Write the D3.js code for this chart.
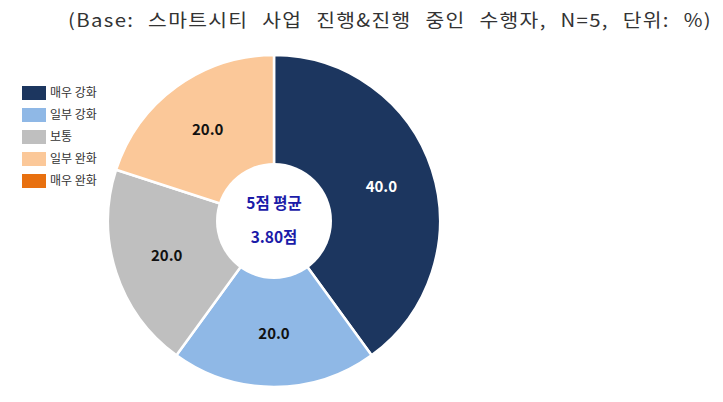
<!DOCTYPE html>
<html><head><meta charset="utf-8">
<script src="https://cdn.jsdelivr.net/npm/d3@7"></script>
<style>body{margin:0;background:#fff}svg{display:block}</style>
</head><body>
<svg id="c" width="723" height="402"></svg>
<script>
const categories = ["매우 강화", "일부 강화", "보통", "일부 완화", "매우 완화"];
const values = [40.0, 20.0, 20.0, 20.0, 0.0];
const colors = ["#1c365f", "#8fb8e6", "#bfbfbf", "#fbc899", "#e8700f"];
const labelColors = ["#ffffff", "#111111", "#111111", "#111111", "#111111"];
const titleText = "(Base: 스마트시티 사업 진행&진행 중인 수행자, N=5, 단위: %)";
const centerLines = ["5점 평균", "3.80점"];

const svg = d3.select("#c");
const font = "'Noto Sans CJK KR', 'Noto Sans', sans-serif";

const title = svg.append("text").attr("x", 68).attr("y", 27).attr("text-anchor", "start")
  .attr("font-family", font).attr("font-size", 18).attr("fill", "#333")
  .style("letter-spacing", "1.2px").style("word-spacing", "7px")
  .text(titleText);
const tw = title.node().getComputedTextLength();
if (Math.abs(tw - 644) > 4) title.attr("textLength", 644).attr("lengthAdjust", "spacingAndGlyphs");

const cx = 274, cy = 221, R = 166, r0 = 58;
const data = categories.map((c, i) => ({cat: c, value: values[i], color: colors[i], lc: labelColors[i]}));
const pie = d3.pie().value(d => d.value).sort(null);
const arcs = pie(data);
const arc = d3.arc().innerRadius(0).outerRadius(R);
const labelArc = d3.arc().innerRadius(R * 0.68).outerRadius(R * 0.68);
const g = svg.append("g").attr("transform", `translate(${cx},${cy})`);
g.selectAll("path").data(arcs.filter(a => a.data.value > 0)).join("path")
  .attr("d", arc).attr("fill", d => d.data.color)
  .attr("stroke", "#fff").attr("stroke-width", 2.5).attr("stroke-linejoin", "round");
g.append("circle").attr("r", r0).attr("fill", "#fff");
g.selectAll("text.lbl").data(arcs.filter(a => a.data.value > 0)).join("text")
  .attr("class", "lbl")
  .attr("transform", d => `translate(${labelArc.centroid(d)})`)
  .attr("text-anchor", "middle").attr("dy", "0.36em")
  .attr("font-family", font).attr("font-weight", "bold").attr("font-size", 15)
  .attr("fill", d => d.data.lc)
  .text(d => d3.format(".1f")(d.data.value));
g.selectAll("text.ctr").data(centerLines).join("text")
  .attr("class", "ctr")
  .attr("x", 0).attr("y", (d, i) => -18 + i * 34)
  .attr("text-anchor", "middle").attr("dy", "0.36em")
  .attr("font-family", font).attr("font-weight", "bold").attr("font-size", 15.5)
  .attr("fill", "#1b1ba8").text(d => d);

const leg = svg.append("g").attr("transform", "translate(22,86)");
const li = leg.selectAll("g").data(data).join("g")
  .attr("transform", (d, i) => `translate(0,${i * 22})`);
li.append("rect").attr("width", 24).attr("height", 14).attr("fill", d => d.color);
li.append("text").attr("x", 28).attr("y", 7).attr("dy", "0.36em")
  .attr("font-family", font).attr("font-size", 12).attr("fill", "#333")
  .text(d => d.cat);
</script>
</body></html>
